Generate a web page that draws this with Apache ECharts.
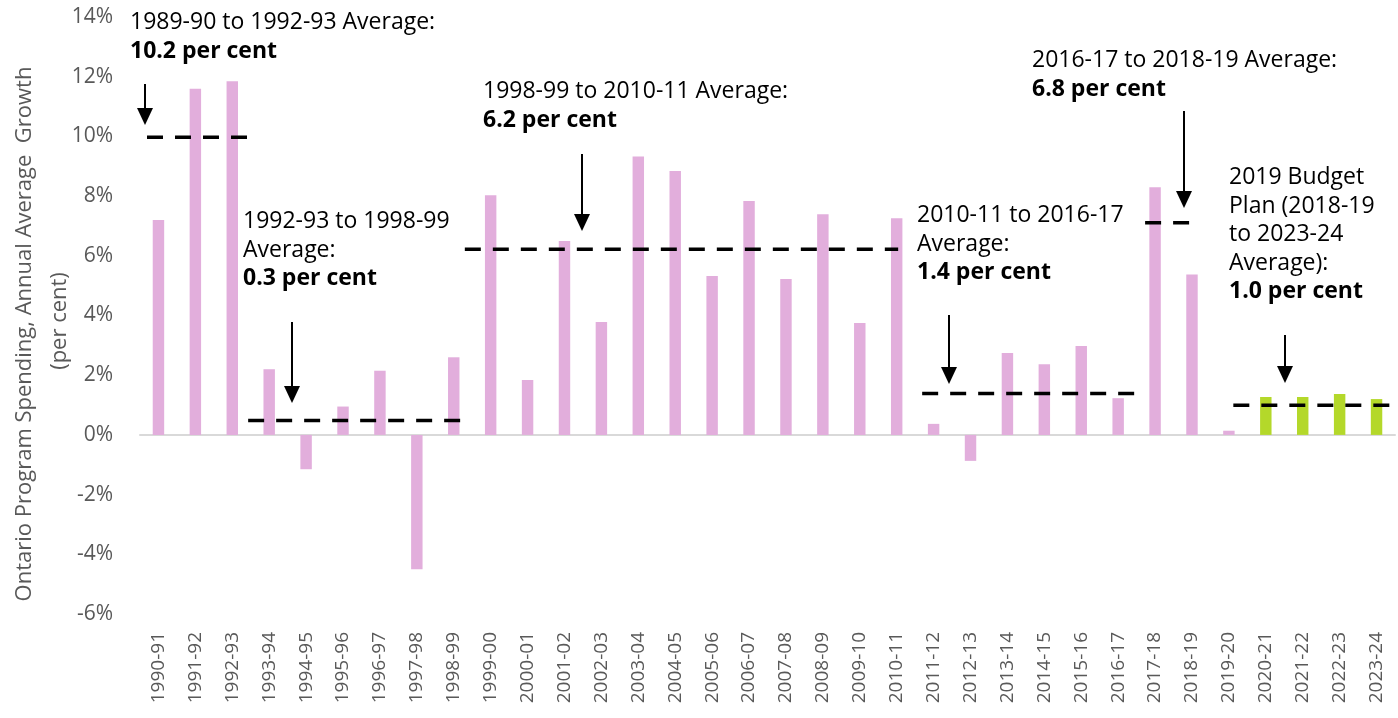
<!DOCTYPE html>
<html>
<head>
<meta charset="utf-8">
<script src="https://cdn.jsdelivr.net/npm/echarts@6/dist/echarts.min.js"></script>
<style>
  html, body { margin: 0; padding: 0; background: #fff; }
  #chart { width: 1398px; height: 718px; }
</style>
</head>
<body>
<div id="chart"></div>
<script>
// fiscal years on the x axis
var years = ['1990-91', '1991-92', '1992-93', '1993-94', '1994-95', '1995-96', '1996-97', '1997-98',
  '1998-99', '1999-00', '2000-01', '2001-02', '2002-03', '2003-04', '2004-05', '2005-06', '2006-07',
  '2007-08', '2008-09', '2009-10', '2010-11', '2011-12', '2012-13', '2013-14', '2014-15', '2015-16',
  '2016-17', '2017-18', '2018-19', '2019-20', '2020-21', '2021-22', '2022-23', '2023-24'];

// annual growth, per cent (actuals, pink)
var actual = [7.2, 11.6, 11.85, 2.2, -1.15, 0.95, 2.15, -4.5, 2.6, 8.03, 1.84, 6.5, 3.78, 9.33, 8.84,
  5.32, 7.84, 5.22, 7.39, 3.75, 7.26, 0.37, -0.87, 2.74, 2.37, 2.98, 1.23, 8.3, 5.37, 0.14,
  null, null, null, null];

// 2019 budget plan years (green)
var plan = [null, null, null, null, null, null, null, null, null, null, null, null, null, null, null,
  null, null, null, null, null, null, null, null, null, null, null, null, null, null, null,
  1.27, 1.27, 1.37, 1.2];

// period averages drawn as dashed lines (from / to in category units)
var avgFrom = [-0.31, 2.43, 8.3, 20.69, 26.73, 29.12];
var avgTo = [2.48, 8.28, 20.04, 26.44, 27.98, 33.5];
var avgValue = [9.97, 0.48, 6.22, 1.39, 7.11, 0.99];

var yTicks = [-6, -4, -2, 0, 2, 4, 6, 8, 10, 12, 14];

var grey = '#595959';
var font = '"Open Sans", "Noto Sans", sans-serif';

// annotation text blocks: x, centre of first line, lines (last one bold)
var notes = [
  { x: 130, y: 26, lines: ['1989-90 to 1992-93 Average:', '10.2 per cent'] },
  { x: 243, y: 225, lines: ['1992-93 to 1998-99', 'Average:', '0.3 per cent'] },
  { x: 483, y: 95, lines: ['1998-99 to 2010-11 Average:', '6.2 per cent'] },
  { x: 917, y: 219, lines: ['2010-11 to 2016-17', 'Average:', '1.4 per cent'] },
  { x: 1032, y: 64, lines: ['2016-17 to 2018-19 Average:', '6.8 per cent'] },
  { x: 1229, y: 181, lines: ['2019 Budget', 'Plan (2018-19', 'to 2023-24', 'Average):', '1.0 per cent'] }
];
// arrows: x, top of shaft, tip
var arrows = [[145, 84, 125], [292, 322, 403], [582, 154, 231], [949, 315, 384], [1184, 111, 208], [1285, 335, 383]];

var graphics = [];
notes.forEach(function (n) {
  n.lines.forEach(function (t, i) {
    var last = i === n.lines.length - 1;
    graphics.push({
      type: 'text', left: n.x, top: n.y + i * 28.5 - 15,
      style: { text: t, fill: '#000', font: (last ? 'bold ' : '') + '23px ' + font }
    });
  });
});
arrows.forEach(function (a) {
  graphics.push({ type: 'line', shape: { x1: a[0], y1: a[1], x2: a[0], y2: a[2] - 12 },
    style: { stroke: '#000', lineWidth: 2 } });
  graphics.push({ type: 'polygon', shape: { points: [[a[0] - 8, a[2] - 17], [a[0] + 8, a[2] - 17], [a[0], a[2]]] },
    style: { fill: '#000' } });
});
graphics.push({ type: 'text', x: 25, y: 334, rotation: Math.PI / 2,
  style: { text: 'Ontario Program Spending, Annual Average  Growth', fill: grey, font: '22px ' + font,
    textAlign: 'center', textVerticalAlign: 'middle' } });
graphics.push({ type: 'text', x: 60, y: 321, rotation: Math.PI / 2,
  style: { text: '(per cent)', fill: grey, font: '22px ' + font,
    textAlign: 'center', textVerticalAlign: 'middle' } });

var avgSeries = avgValue.map(function (v, i) {
  return {
    type: 'line', xAxisIndex: 1, symbol: 'none', silent: true, z: 5,
    lineStyle: { color: '#000', width: 3.5, type: [16, 12] },
    data: [[avgFrom[i], v], [avgTo[i], v]]
  };
});

var chart = echarts.init(document.getElementById('chart'));
chart.setOption({
  animation: false,
  grid: { left: 140, right: 3, top: 17, bottom: 104 },
  xAxis: [{
    type: 'category', data: years, position: 'bottom',
    axisLine: { show: false, onZero: false }, axisTick: { show: false },
    axisLabel: { rotate: 90, interval: 0, margin: 18, color: grey, fontSize: 19, fontFamily: font }
  }, {
    type: 'value', min: -0.5, max: 33.5, show: true,
    axisLine: { onZero: true, lineStyle: { color: '#d9d9d9', width: 2 } },
    axisTick: { show: false }, axisLabel: { show: false }, splitLine: { show: false }
  }],
  yAxis: {
    type: 'value', min: -6, max: 14, interval: 2,
    axisLine: { show: false }, axisTick: { show: false }, splitLine: { show: false },
    axisLabel: { margin: 27, color: grey, fontSize: 21, fontFamily: font,
      formatter: function (v) { return yTicks.indexOf(v) >= 0 ? v + '%' : ''; } }
  },
  series: [{
    type: 'bar', data: actual, barWidth: '31%', barGap: '-100%',
    itemStyle: { color: '#E2AEDC' }
  }, {
    type: 'bar', data: plan, barWidth: '31%', barGap: '-100%',
    itemStyle: { color: '#B4D82A' }
  }].concat(avgSeries),
  graphic: graphics
});
</script>
</body>
</html>
